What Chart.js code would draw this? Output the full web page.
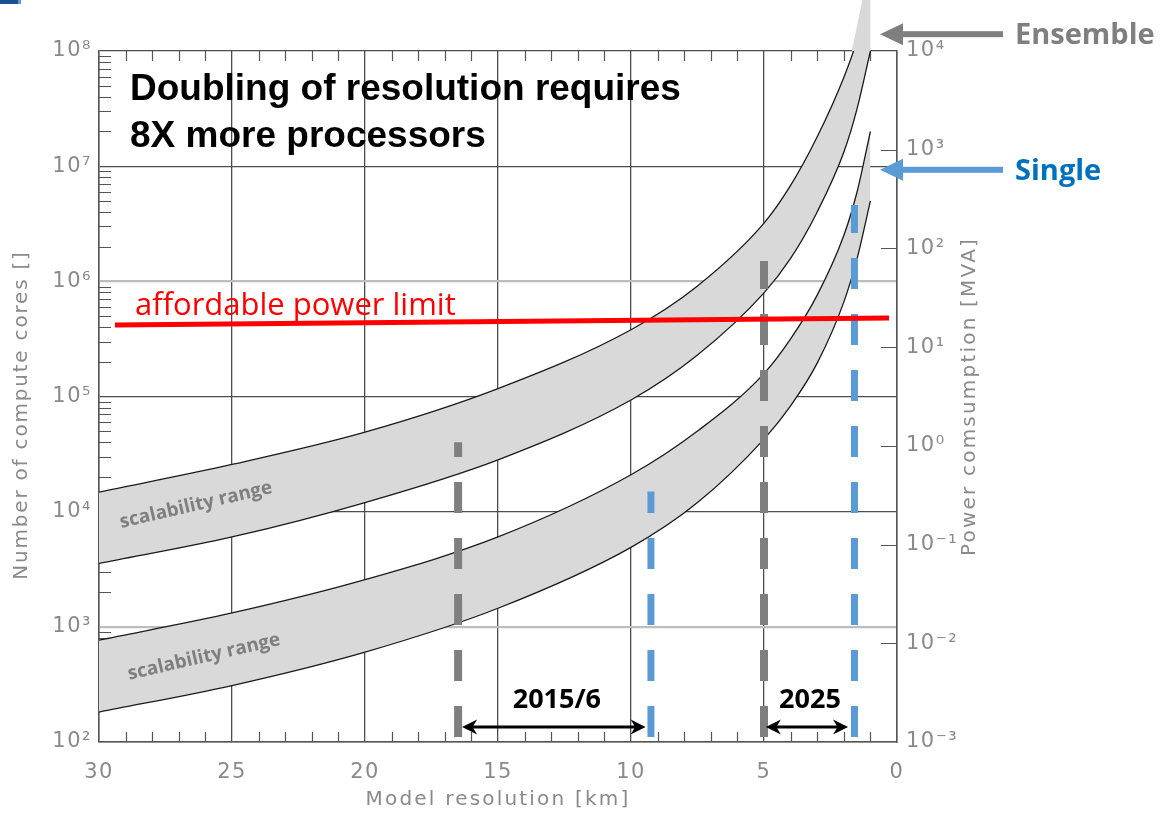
<!DOCTYPE html>
<html>
<head>
<meta charset="utf-8">
<script src="https://cdn.jsdelivr.net/npm/chart.js@4.4.1/dist/chart.umd.min.js"></script>
<style>
  html, body { margin: 0; padding: 0; background: #fff; }
  #wrap { width: 1163px; height: 816px; position: relative; }
</style>
</head>
<body>
<div id="wrap"><canvas id="chart"></canvas></div>
<script>
const resolution = [30, 25, 20, 15, 10, 7.5, 5, 4, 3, 2, 1.5, 1];

// ensemble scalability range (upper band), number of cores
const ensembleUpper = [14800, 25700, 49000, 117000, 380000, 912000, 3200000, 6800000, 18000000, 59000000, 126000000, 400000000];
const ensembleLower = [3550, 6030, 12000, 28200, 93300, 229000, 794000, 1580000, 4000000, 13200000, 31600000, 100000000];

// single model scalability range (lower band)
const singleUpper = [767, 1320, 2570, 6030, 20900, 50100, 158000, 316000, 759000, 2500000, 6000000, 20000000];
const singleLower = [182, 309, 603, 1450, 4900, 12000, 42700, 83000, 195000, 660000, 1580000, 5000000];

// grey tail of the ensemble band above the frame
const ensembleTailX = [1.7, 1.3, 1.0, 1.0];
const ensembleTailY = [1e8, 2.8e8, 2.8e8, 1e8];

// affordable power limit, end points
const powerLimitX = [29.4, 0.3];
const powerLimitY = [417000, 480000];

// dashed markers (resolution, top of the bar)
const ensembleMarkX = [16.5, 5];
const ensembleMarkTop = [40000, 1500000];
const singleMarkX = [9.25, 1.6];
const singleMarkTop = [15000, 4600000];

// year spans with double arrows
const spanLabels = ['2015/6', '2025'];
const spanFrom = [16.35, 4.93];
const spanTo = [9.45, 1.84];
const spanY = 135;

// callouts on the right
const calloutLabels = ['Ensemble', 'Single'];
const calloutY = [1.4e8, 9.3e6];

const kmTicks = [30, 25, 20, 15, 10, 5, 0];
const coreTicks = [1e2, 1e3, 1e4, 1e5, 1e6, 1e7, 1e8];
const powerTicks = [1e-3, 1e-2, 1e-1, 1e0, 1e1, 1e2, 1e3, 1e4];

const sup = {'-': '⁻', '0': '⁰', '1': '¹', '2': '²', '3': '³', '4': '⁴', '5': '⁵', '6': '⁶', '7': '⁷', '8': '⁸', '9': '⁹'};
function pow10Label(v) {
  const e = Math.round(Math.log10(v));
  return '10' + String(e).split('').map(c => sup[c]).join('');
}
const pts = (xs, ys) => xs.map((x, i) => ({x: x, y: ys[i]}));

const bandLine = {borderColor: '#1a1a1a', borderWidth: 1.3, pointRadius: 0, cubicInterpolationMode: 'monotone'};
const markLine = {pointRadius: 0, borderDash: [31, 25], borderDashOffset: 51, borderCapStyle: 'butt', order: 1, fill: false};

const datasets = [
  {label: 'ensemble upper', data: pts(resolution, ensembleUpper), ...bandLine, fill: '+1', backgroundColor: '#d9d9d9', order: 6},
  {label: 'ensemble lower', data: pts(resolution, ensembleLower), ...bandLine, fill: false, order: 5},
  {label: 'single upper', data: pts(resolution, singleUpper), ...bandLine, fill: '+1', backgroundColor: '#d9d9d9', order: 6},
  {label: 'single lower', data: pts(resolution, singleLower), ...bandLine, fill: false, order: 5},
  {label: 'power limit', data: pts(powerLimitX, powerLimitY), borderColor: '#ff0000', borderWidth: 5, pointRadius: 0, order: 0, fill: false}
];
ensembleMarkX.forEach((x, i) => datasets.push({label: 'ensemble mark', data: [{x: x, y: 100}, {x: x, y: ensembleMarkTop[i]}], borderColor: '#7f7f7f', borderWidth: 8, ...markLine}));
singleMarkX.forEach((x, i) => datasets.push({label: 'single mark', data: [{x: x, y: 100}, {x: x, y: singleMarkTop[i]}], borderColor: '#5b9bd5', borderWidth: 7, ...markLine}));

function arrowHead(ctx, tipX, y, dir, len, half) {
  ctx.beginPath();
  ctx.moveTo(tipX, y);
  ctx.lineTo(tipX + dir * len, y - half);
  ctx.lineTo(tipX + dir * len * 0.7, y);
  ctx.lineTo(tipX + dir * len, y + half);
  ctx.closePath();
  ctx.fill();
}

function axisTitle(ctx, text, cx, cy, rotate, spacing) {
  ctx.save();
  ctx.letterSpacing = spacing;
  ctx.fillStyle = '#8a8a8a';
  ctx.font = '20px "DejaVu Sans"';
  ctx.translate(cx, cy);
  if (rotate) ctx.rotate(-Math.PI / 2);
  ctx.textAlign = 'center';
  ctx.textBaseline = 'middle';
  ctx.fillText(text, 0, 0);
  ctx.restore();
}

const decor = {
  id: 'decor',
  beforeDraw(chart) {
    chart.ctx.letterSpacing = '1.5px';
  },
  beforeDatasetsDraw(chart) {
    const {ctx, chartArea: a, scales: {x, y, y2}} = chart;
    ctx.letterSpacing = '0px';
    ctx.save();
    ctx.strokeStyle = '#555';
    ctx.lineWidth = 1.2;
    ctx.beginPath();
    for (let e = 2; e < 8; e++) {
      for (let m = 2; m <= 9; m++) {
        const py = Math.round(y.getPixelForValue(m * Math.pow(10, e))) + 0.5;
        ctx.moveTo(a.left, py); ctx.lineTo(a.left + 12, py);
      }
    }
    for (let k = 1; k < 30; k++) {
      if (k % 5 === 0) continue;
      const px = Math.round(x.getPixelForValue(k)) + 0.5;
      ctx.moveTo(px, a.bottom); ctx.lineTo(px, a.bottom - 10);
      ctx.moveTo(px, a.top); ctx.lineTo(px, a.top + 10);
    }
    powerTicks.slice(1, -1).forEach(v => {
      const py = Math.round(y2.getPixelForValue(v)) + 0.5;
      ctx.moveTo(a.right - 16, py); ctx.lineTo(a.right, py);
    });
    ctx.stroke();
    ctx.restore();
  },
  afterDatasetsDraw(chart) {
    const {ctx, chartArea: a, scales: {x, y}} = chart;
    ctx.save();
    ctx.letterSpacing = '0px';

    // grey tail of the ensemble band, sticking out above the frame
    ctx.fillStyle = '#d9d9d9';
    ctx.beginPath();
    ensembleTailX.forEach((v, i) => {
      const px = x.getPixelForValue(v), py = y.getPixelForValue(ensembleTailY[i]);
      if (i === 0) ctx.moveTo(px, py); else ctx.lineTo(px, py);
    });
    ctx.closePath();
    ctx.fill();

    // year spans
    ctx.fillStyle = '#000';
    ctx.strokeStyle = '#000';
    spanLabels.forEach((t, i) => {
      const x1 = x.getPixelForValue(spanFrom[i]);
      const x2 = x.getPixelForValue(spanTo[i]);
      const py = y.getPixelForValue(spanY);
      ctx.lineWidth = 3;
      ctx.beginPath();
      ctx.moveTo(x1 + 8, py); ctx.lineTo(x2 - 8, py);
      ctx.stroke();
      arrowHead(ctx, x1, py, 1, 15, 7.5);
      arrowHead(ctx, x2, py, -1, 15, 7.5);
      ctx.font = 'bold 27px "Open Sans"';
      ctx.textAlign = 'center';
      ctx.textBaseline = 'alphabetic';
      ctx.fillText(t, (x1 + x2) / 2 + 3, py - 19);
    });

    // headline
    ctx.fillStyle = '#000';
    ctx.textAlign = 'left';
    ctx.font = 'bold 37px "Liberation Sans"';
    ctx.fillText('Doubling of resolution requires', a.left + 31, a.top + 49);
    ctx.fillText('8X more processors', a.left + 31, a.top + 96);

    // power limit label
    ctx.fillStyle = '#ff0000';
    ctx.font = '31px "Open Sans"';
    ctx.fillText('affordable power limit', x.getPixelForValue(28.65), y.getPixelForValue(510000));

    // band labels
    ctx.fillStyle = '#7f7f7f';
    ctx.font = 'bold 19px "Open Sans"';
    ctx.textAlign = 'center';
    ctx.textBaseline = 'middle';
    [[26.35, 11400], [26.05, 547]].forEach(p => {
      ctx.save();
      ctx.translate(x.getPixelForValue(p[0]), y.getPixelForValue(p[1]));
      ctx.rotate(-13 * Math.PI / 180);
      ctx.fillText('scalability range', 0, 0);
      ctx.restore();
    });

    // axis titles
    axisTitle(ctx, 'Number of compute cores []', 22, 415, true, '1.8px');
    axisTitle(ctx, 'Power comsumption [MVA]', 970, (a.top + a.bottom) / 2, true, '2.2px');
    axisTitle(ctx, 'Model resolution [km]', (a.left + a.right) / 2, 800, false, '2.2px');

    // callouts
    const calloutText = ['#7f7f7f', '#0070c0'];
    const calloutArrow = ['#7f7f7f', '#5b9bd5'];
    calloutLabels.forEach((t, i) => {
      const py = y.getPixelForValue(calloutY[i]);
      const tip = a.right - 17;
      ctx.fillStyle = calloutArrow[i];
      ctx.fillRect(tip + 20, py - 3, 103, 6);
      ctx.beginPath();
      ctx.moveTo(tip, py);
      ctx.lineTo(tip + 23, py - 11);
      ctx.lineTo(tip + 23, py + 11);
      ctx.closePath();
      ctx.fill();
      ctx.fillStyle = calloutText[i];
      ctx.font = 'bold 29px "Open Sans"';
      ctx.textAlign = 'left';
      ctx.textBaseline = 'alphabetic';
      ctx.fillText(t, a.right + 118, py + 10);
    });

    // slide corner mark
    ctx.fillStyle = '#1c4f94';
    ctx.fillRect(0, 0, 18, 4);
    ctx.fillStyle = '#5b9bd5';
    ctx.fillRect(18, 0, 3, 4);
    ctx.restore();
  }
};

const tickFont = {family: 'DejaVu Sans', size: 21};

new Chart(document.getElementById('chart').getContext('2d'), {
  type: 'line',
  data: {datasets: datasets},
  plugins: [decor],
  options: {
    responsive: true,
    maintainAspectRatio: false,
    animation: false,
    devicePixelRatio: 1,
    layout: {padding: {left: 0, right: 171, top: 51, bottom: 0}},
    plugins: {
      legend: {display: false},
      tooltip: {enabled: false}
    },
    elements: {line: {tension: 0}},
    scales: {
      x: {
        type: 'linear',
        reverse: true,
        min: 0,
        max: 30,
        afterBuildTicks: s => { s.ticks = kmTicks.map(v => ({value: v})); },
        afterFit: s => { s.height = 74; },
        ticks: {color: '#8a8a8a', font: {family: 'DejaVu Sans', size: 21}, padding: 18, maxRotation: 0, autoSkip: false},
        grid: {color: '#4d4d4d', lineWidth: 1.3, drawTicks: false},
        border: {color: '#555', width: 1.5}
      },
      y: {
        type: 'logarithmic',
        position: 'left',
        min: 100,
        max: 1e8,
        afterBuildTicks: s => { s.ticks = coreTicks.map(v => ({value: v})); },
        afterFit: s => { s.width = 99; },
        ticks: {color: '#8a8a8a', font: tickFont, padding: 7, autoSkip: false, callback: v => pow10Label(v)},
        grid: {
          drawTicks: false,
          color: c => (c.tick && (c.tick.value === 1e6 || c.tick.value === 1e3)) ? '#bdbdbd' : '#4d4d4d',
          lineWidth: c => (c.tick && (c.tick.value === 1e6 || c.tick.value === 1e3)) ? 2.2 : 1.3
        },
        border: {color: '#555', width: 1.5}
      },
      y2: {
        type: 'logarithmic',
        position: 'right',
        min: 1e-3,
        max: 1e4,
        afterBuildTicks: s => { s.ticks = powerTicks.map(v => ({value: v})); },
        afterFit: s => { s.width = 95; },
        ticks: {color: '#8a8a8a', font: tickFont, padding: 9, autoSkip: false, callback: v => pow10Label(v)},
        grid: {display: false, drawTicks: false},
        border: {color: '#555', width: 1.5}
      }
    }
  }
});
</script>
</body>
</html>
